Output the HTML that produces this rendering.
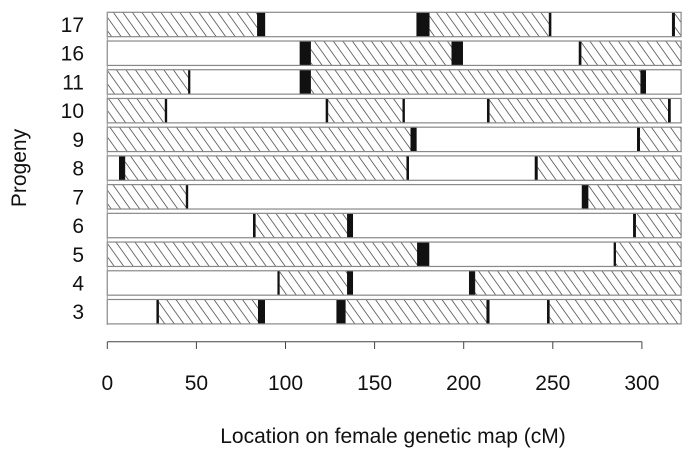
<!DOCTYPE html>
<html><head><meta charset="utf-8"><style>
body{margin:0;background:#fff}
svg text{font-family:"Liberation Sans",sans-serif;fill:#111}
</style></head><body>
<svg id="chart" width="700" height="456" viewBox="0 0 700 456" xmlns="http://www.w3.org/2000/svg">
<defs>
<pattern id="hatch" patternUnits="userSpaceOnUse" width="9.5" height="13.3">
<path d="M-9.5,-13.3 L19,26.6 M0,-13.3 L19,13.3 M-9.5,0 L9.5,26.6" stroke="#555" stroke-width="0.8" fill="none"/>
</pattern>
</defs>
<g id="bars"></g>
<g id="axes"></g>
</svg>
<script>
const progeny = ["17","16","11","10","9","8","7","6","5","4","3"];
const xTicks = [0,50,100,150,200,250,300];
const mapLength = 322;
// segments: [start cM, end cM, type]  h=hatched, w=white, b=black
const row17 = [[0,84.2,"h"],[84.2,88.6,"b"],[88.6,173.6,"w"],[173.6,180.7,"b"],[180.7,247.9,"h"],[247.9,249.2,"b"],[249.2,317,"w"],[317,318.4,"b"],[318.4,322,"h"]];
const row16 = [[0,108.1,"w"],[108.1,114.1,"b"],[114.1,193.3,"h"],[193.3,199.6,"b"],[199.6,264.7,"w"],[264.7,265.9,"b"],[265.9,322,"h"]];
const row11 = [[0,45.5,"h"],[45.5,46.6,"b"],[46.6,108.1,"w"],[108.1,114.1,"b"],[114.1,299.3,"h"],[299.3,302.3,"b"],[302.3,322,"w"]];
const row10 = [[0,32.4,"h"],[32.4,33.6,"b"],[33.6,122.7,"w"],[122.7,123.8,"b"],[123.8,165.8,"h"],[165.8,167,"b"],[167,213.2,"w"],[213.2,214.4,"b"],[214.4,314.8,"h"],[314.8,316.2,"b"],[316.2,322,"w"]];
const row9 = [[0,170.3,"h"],[170.3,173.6,"b"],[173.6,297.4,"w"],[297.4,298.8,"b"],[298.8,322,"h"]];
const row8 = [[0,6.7,"w"],[6.7,9.9,"b"],[9.9,168,"h"],[168,169.3,"b"],[169.3,240,"w"],[240,241.4,"b"],[241.4,322,"h"]];
const row7 = [[0,44.2,"h"],[44.2,45.4,"b"],[45.4,266.4,"w"],[266.4,269.8,"b"],[269.8,322,"h"]];
const row6 = [[0,81.9,"w"],[81.9,83.1,"b"],[83.1,134.7,"h"],[134.7,137.9,"b"],[137.9,295.2,"w"],[295.2,296.5,"b"],[296.5,322,"h"]];
const row5 = [[0,174,"h"],[174,180.7,"b"],[180.7,284.3,"w"],[284.3,285.3,"b"],[285.3,322,"h"]];
const row4 = [[0,95.6,"w"],[95.6,96.6,"b"],[96.6,134.7,"h"],[134.7,137.9,"b"],[137.9,203.1,"w"],[203.1,206.3,"b"],[206.3,322,"h"]];
const row3 = [[0,27.7,"w"],[27.7,28.8,"b"],[28.8,84.7,"h"],[84.7,88.5,"b"],[88.5,128.7,"w"],[128.7,133.6,"b"],[133.6,212.9,"h"],[212.9,214.5,"b"],[214.5,246.9,"w"],[246.9,248.1,"b"],[248.1,322,"h"]];
const rows = [row17,row16,row11,row10,row9,row8,row7,row6,row5,row4,row3];

const NS="http://www.w3.org/2000/svg";
const x0=107.3, pxPerCM=1.782;
const xs = v => x0 + v*pxPerCM;
const rowTop = i => 12.3 + i*28.72;
const rowH = 24.4;
const bars=document.getElementById("bars"), axes=document.getElementById("axes");
function mk(tag,attrs,parent){const e=document.createElementNS(NS,tag);for(const k in attrs)e.setAttribute(k,attrs[k]);parent.appendChild(e);return e;}
const fills={h:"url(#hatch)",w:"#fff",b:"#111"};
rows.forEach((segs,i)=>{
  const g=mk("g",{},bars);
  
  
  segs.forEach(s=>{
    const r=mk("rect",{x:xs(s[0]),y:rowTop(i),width:xs(s[1])-xs(s[0]),height:rowH,fill:fills[s[2]],stroke:s[2]==="b"?"#111":"none","stroke-width":0.5},g);
    
    
  });
  const o=mk("rect",{x:xs(0),y:rowTop(i),width:xs(mapLength)-xs(0),height:rowH,fill:"none",stroke:"#888","stroke-width":1.2},g);
  
  
  const t=mk("text",{x:84,y:rowTop(i)+rowH/2+7.5,"text-anchor":"end","font-size":21},axes);
  t.textContent=progeny[i];
  
  
});
const yl=mk("line",{x1:107.3,y1:12,x2:107.3,y2:325,stroke:"#999","stroke-width":1},axes);


const xl=mk("line",{x1:xs(xTicks[0]),y1:341.7,x2:xs(xTicks[xTicks.length-1]),y2:341.7,stroke:"#444","stroke-width":1},axes);


xTicks.forEach(v=>{
  const l=mk("line",{x1:xs(v),y1:341.7,x2:xs(v),y2:349,stroke:"#444","stroke-width":1},axes);
  
  
  const t=mk("text",{x:xs(v),y:390,"text-anchor":"middle","font-size":21},axes);
  t.textContent=v;
  
  
});
const xt=mk("text",{x:393,y:443,"text-anchor":"middle","font-size":21},axes);
xt.textContent="Location on female genetic map (cM)";


const yt=mk("text",{x:26,y:168,"text-anchor":"middle","font-size":21,transform:"rotate(-90 26 168)"},axes);
yt.textContent="Progeny";


</script>
</body></html>
